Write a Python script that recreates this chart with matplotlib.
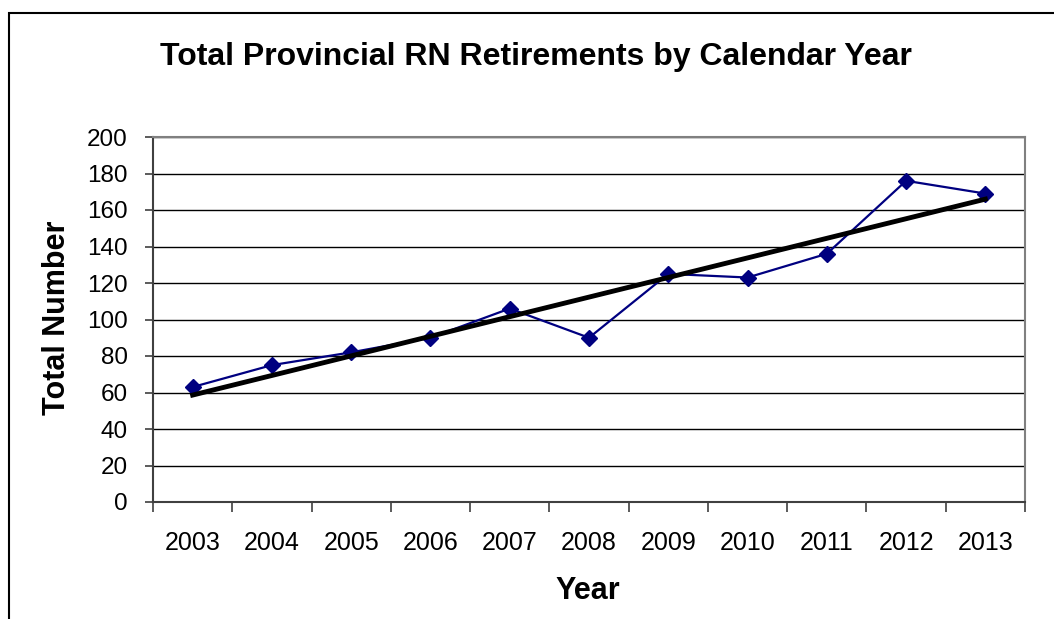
import numpy as np
import matplotlib
matplotlib.use("Agg")
import matplotlib.pyplot as plt
from matplotlib.patches import Rectangle

years = ["2003", "2004", "2005", "2006", "2007", "2008",
         "2009", "2010", "2011", "2012", "2013"]
retirements = [63, 75, 82, 90, 106, 90, 125, 123, 136, 176, 169]

plt.rcParams["font.family"] = ["Liberation Sans", "DejaVu Sans"]

W, H = 1054, 619
fig = plt.figure(figsize=(W / 100, H / 100), dpi=100)
fig.patch.set_facecolor("white")

# outer chart frame (cut off on the right and bottom, like the source)
fig.patches.append(Rectangle((9 / W, -0.1), 1.2, 1 - 13 / H + 0.1,
                             transform=fig.transFigure, fill=False,
                             edgecolor="black", linewidth=1.5))

left, right, top, bottom = 153 / W, 1025 / W, 1 - 137 / H, 1 - 502 / H
ax = fig.add_axes([left, bottom, right - left, top - bottom])

x = np.arange(len(years))
y = np.array(retirements)

ax.plot(x, y, color="#000080", linewidth=1.6, marker="D",
        markersize=8.5, markerfacecolor="#000080", markeredgecolor="#000080",
        zorder=3)

# linear trendline
slope, intercept = np.polyfit(x, y, 1)
ax.plot(x, slope * x + intercept, color="black", linewidth=3.5, zorder=4)

ax.set_xlim(-0.5, len(years) - 0.5)
ax.set_ylim(0, 200)
ax.set_yticks(np.arange(0, 201, 20))
ax.yaxis.grid(True, color="black", linewidth=1)
ax.set_axisbelow(True)

# category ticks between labels, labels at centres
ax.set_xticks(np.arange(-0.5, len(years), 1))
ax.set_xticklabels([])
ax.set_xticks(x, minor=True)
ax.set_xticklabels(years, minor=True)
ax.tick_params(axis="x", which="minor", length=0, pad=21, labelsize=18)
ax.tick_params(axis="x", which="major", length=7, width=1.2, color="#404040")
ax.tick_params(axis="y", length=6, width=1.2, color="#404040", labelsize=17.5, pad=12)

for s in ("top", "right"):
    ax.spines[s].set_color("#808080")
    ax.spines[s].set_linewidth(1.5)
for s in ("left", "bottom"):
    ax.spines[s].set_color("#404040")
    ax.spines[s].set_linewidth(1.5)

fig.text(536 / W, 1 - 57 / H, "Total Provincial RN Retirements by Calendar Year",
         ha="center", va="center", fontsize=23, fontweight="bold")
fig.text(588 / W, 1 - 591 / H, "Year", ha="center", va="center",
         fontsize=22, fontweight="bold")
fig.text(57 / W, 1 - 318 / H, "Total Number", ha="center", va="center",
         rotation=90, fontsize=22, fontweight="bold")

fig.savefig("out.png", dpi=100, facecolor="white")
